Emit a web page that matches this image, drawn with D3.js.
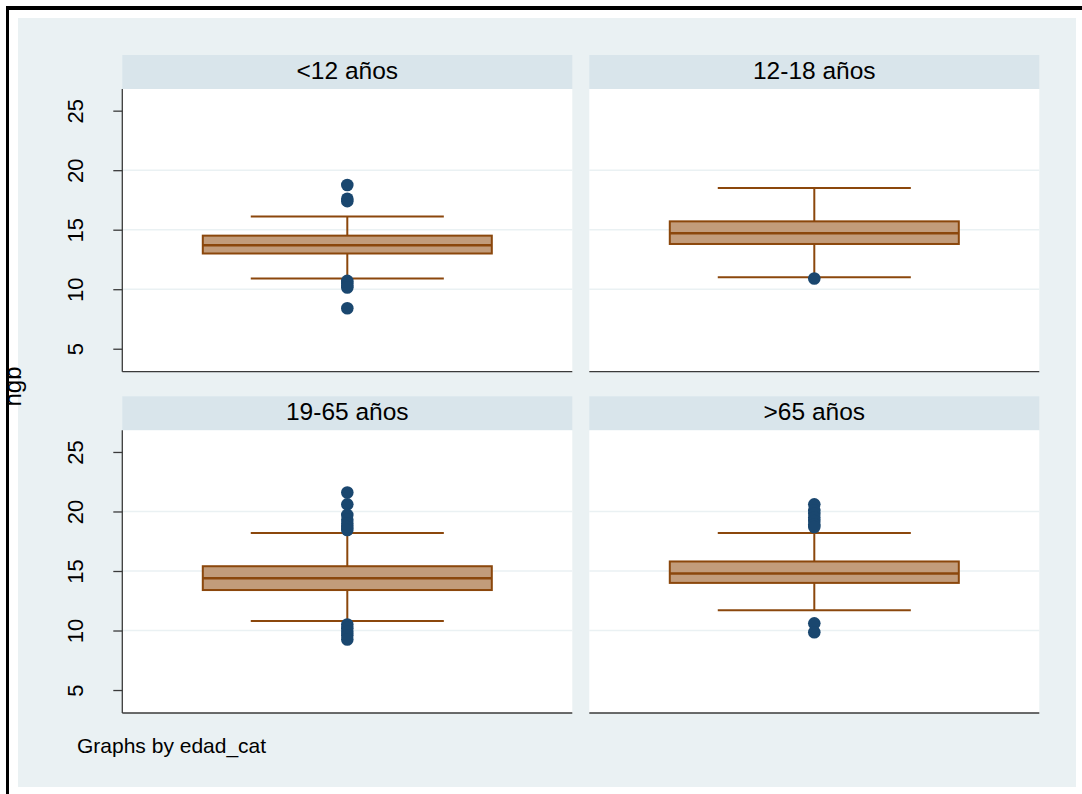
<!DOCTYPE html>
<html>
<head>
<meta charset="utf-8">
<script src="https://cdn.jsdelivr.net/npm/d3@7"></script>
<style>
  html, body { margin: 0; padding: 0; background: #ffffff; }
  svg { display: block; font-family: Arial, "Liberation Sans", sans-serif; }
</style>
</head>
<body>
<svg id="chart" width="1082" height="794"></svg>
<script>
// Hemoglobin (hgb) by age group
const categories = ["<12 años", "12-18 años", "19-65 años", ">65 años"];
const q1 = [13.0, 13.8, 13.4, 14.0];
const median = [13.7, 14.7, 14.4, 14.8];
const q3 = [14.5, 15.7, 15.4, 15.8];
const whiskerLow = [10.9, 11.0, 10.8, 11.7];
const whiskerHigh = [16.1, 18.5, 18.2, 18.2];
const outliers = [
  [18.75, 17.6, 17.4, 10.7, 10.5, 10.3, 10.15, 8.4],
  [10.9],
  [21.6, 20.6, 19.7, 19.3, 19.0, 18.7, 18.45, 10.5, 10.2, 9.9, 9.6, 9.25],
  [20.6, 20.1, 19.8, 19.5, 19.2, 18.9, 18.7, 10.6, 9.85]
];
const yTicks = [5, 10, 15, 20, 25];
const gridTicks = [10, 15, 20];
const yTitle = "hgb";
const note = "Graphs by edad_cat";

const svg = d3.select("#chart");

// The window border crops everything left of x = 9
svg.append("defs").append("clipPath").attr("id", "frameClip")
  .append("rect").attr("x", 9).attr("y", 10).attr("width", 1073).attr("height", 784);

// Graph region
svg.append("rect").attr("x", 18).attr("y", 18).attr("width", 1058).attr("height", 769)
  .attr("fill", "#eaf1f3");

const panelW = 450, plotTop = [89, 430.3], plotH = 282.7, stripH = 34;
const panelX = [122.3, 589.3];

// Shared y scale (same range for every row, offset per row)
const y = d3.scaleLinear().domain([3.07, 26.82]).range([plotH, 0]);
const x = d3.scaleBand().domain(["box"]).range([0, panelW]).paddingInner(0).paddingOuter(0.2785);

const boxFill = "#c29c7b", boxStroke = "#8b470c", dotColor = "#1a476f";

categories.forEach((cat, i) => {
  const col = i % 2, row = Math.floor(i / 2);
  const gx = panelX[col], gy = plotTop[row];

  // strip header
  svg.append("rect").attr("x", gx).attr("y", gy - stripH).attr("width", panelW).attr("height", stripH)
    .attr("fill", "#d9e5eb");
  svg.append("text").attr("x", gx + panelW / 2).attr("y", gy - 10)
    .attr("text-anchor", "middle").attr("font-size", 24.5).attr("fill", "#000").text(cat);

  const g = svg.append("g").attr("transform", `translate(${gx},${gy})`);
  g.append("rect").attr("width", panelW).attr("height", plotH).attr("fill", "#ffffff");

  // grid lines
  g.selectAll(".grid").data(gridTicks).enter().append("line")
    .attr("x1", 0).attr("x2", panelW)
    .attr("y1", d => y(d)).attr("y2", d => y(d))
    .attr("stroke", "#eaf1f3").attr("stroke-width", 1.5);

  const cx = x("box") + x.bandwidth() / 2;
  const bw = x.bandwidth();
  const capW = bw * 0.668;

  // whiskers
  g.append("line").attr("x1", cx).attr("x2", cx).attr("y1", y(q3[i])).attr("y2", y(whiskerHigh[i]))
    .attr("stroke", boxStroke).attr("stroke-width", 2);
  g.append("line").attr("x1", cx).attr("x2", cx).attr("y1", y(q1[i])).attr("y2", y(whiskerLow[i]))
    .attr("stroke", boxStroke).attr("stroke-width", 2);
  [whiskerHigh[i], whiskerLow[i]].forEach(v => {
    g.append("line").attr("x1", cx - capW / 2).attr("x2", cx + capW / 2)
      .attr("y1", y(v)).attr("y2", y(v))
      .attr("stroke", boxStroke).attr("stroke-width", 2);
  });

  // box
  g.append("rect").attr("x", x("box")).attr("width", bw)
    .attr("y", y(q3[i])).attr("height", y(q1[i]) - y(q3[i]))
    .attr("fill", boxFill).attr("stroke", boxStroke).attr("stroke-width", 2);
  g.append("line").attr("x1", x("box")).attr("x2", x("box") + bw)
    .attr("y1", y(median[i])).attr("y2", y(median[i]))
    .attr("stroke", boxStroke).attr("stroke-width", 2.5);

  // outside values
  g.selectAll(".dot").data(outliers[i]).enter().append("circle")
    .attr("cx", cx).attr("cy", d => y(d)).attr("r", 6.3).attr("fill", dotColor);

  // x axis line
  g.append("line").attr("x1", 0).attr("x2", panelW).attr("y1", plotH).attr("y2", plotH)
    .attr("stroke", "#3a3a3a").attr("stroke-width", 1.3);

  // y axis on left column
  if (col === 0) {
    const axis = d3.axisLeft(y).tickValues(yTicks).tickSize(9).tickPadding(28).tickFormat(d3.format("d"));
    const ag = g.append("g").call(axis);
    ag.select(".domain").attr("stroke", "#3a3a3a").attr("stroke-width", 1.3)
      .attr("d", `M0,0V${plotH}`);
    ag.selectAll(".tick line").attr("stroke", "#3a3a3a").attr("stroke-width", 1.3);
    ag.selectAll(".tick text")
      .attr("font-size", 22).attr("fill", "#000").attr("font-family", "Arial, 'Liberation Sans', sans-serif")
      .attr("text-anchor", "middle")
      .attr("x", null).attr("dy", null)
      .attr("transform", "translate(-45,0) rotate(-90)")
      .attr("y", 0).attr("dominant-baseline", "middle");
  }
});

// Y title, partly under the window border
svg.append("g").attr("clip-path", "url(#frameClip)")
  .append("text").attr("transform", "translate(21,386.5) rotate(-90)")
  .attr("text-anchor", "middle")
  .attr("font-size", 24).attr("fill", "#000").text(yTitle);

// Note
svg.append("text").attr("x", 77).attr("y", 753).attr("font-size", 21).attr("fill", "#000").text(note);

// Black window border (top and left)
svg.append("rect").attr("x", 6).attr("y", 6).attr("width", 1076).attr("height", 4).attr("fill", "#000");
svg.append("rect").attr("x", 6).attr("y", 6).attr("width", 3).attr("height", 788).attr("fill", "#000");
</script>
</body>
</html>
